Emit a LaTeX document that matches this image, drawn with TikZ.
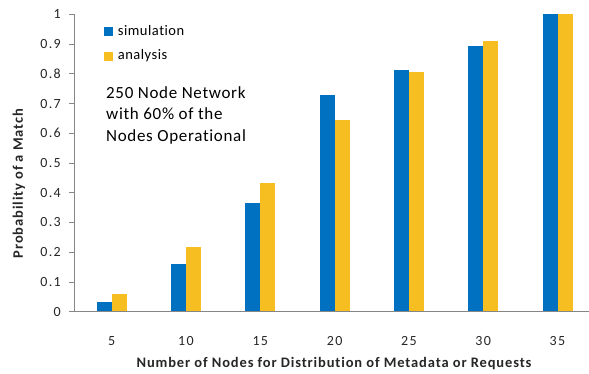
\documentclass[tikz,border=0pt]{standalone}
\usepackage{fontspec}
\setmainfont[Ligatures=CommonOff]{Carlito}
\usetikzlibrary{positioning}
\definecolor{simblue}{RGB}{0,112,192}
\definecolor{anagold}{RGB}{246,190,32}
\definecolor{axisgray}{RGB}{134,134,134}
\newfontfamily\tickfont[LetterSpace=10,Ligatures=CommonOff]{Carlito}
\newfontfamily\keyfont[LetterSpace=3.5,Ligatures=CommonOff]{Carlito}
\newfontfamily\notefont[LetterSpace=4,Ligatures=CommonOff]{Carlito}
\newfontfamily\titlefont[LetterSpace=6,Ligatures=CommonOff]{Carlito}
\tikzset{%
  font=\keyfont\fontsize{14.5}{16}\selectfont,
  bar sim/.style={fill=simblue,draw=none},
  bar ana/.style={fill=anagold,draw=none},
  axis line/.style={draw=axisgray,line width=0.9pt},
  tick label/.style={anchor=east,inner sep=0pt,text=black!85,font=\tickfont\fontsize{14}{16}\selectfont},
  cat label/.style={anchor=base,inner sep=0pt,text=black!85,font=\tickfont\fontsize{14}{16}\selectfont},
  axis title/.style={font=\titlefont\fontsize{14.5}{16}\selectfont\bfseries,text=black!85,inner sep=0pt},
  key box/.style={minimum size=9pt,inner sep=0pt}
}
\begin{document}
\begin{tikzpicture}[x=1pt,y=-1pt]
	\useasboundingbox (0,0) rectangle (589,373);
	% bars
	\foreach \s/\a [count=\i from 0] in {0.032/0.06,0.16/0.219,0.365/0.432,0.728/0.644,0.814/0.806,0.892/0.909,1.0/1.0}{
		\fill[bar sim] (111.7+74.3*\i-15,311.7) rectangle (111.7+74.3*\i,311.7-297.4*\s);
		\fill[bar ana] (111.7+74.3*\i,311.7) rectangle (111.7+74.3*\i+15,311.7-297.4*\a);
	}
	% axes
	\coordinate (origin) at (74,311.7);
	\coordinate (ytop) at (74,14.3);
	\coordinate (xend) at (589,311.7);
	\draw[axis line] (ytop) -- (origin) -- (xend);
	\foreach \v [count=\k from 0] in {0,0.1,0.2,0.3,0.4,0.5,0.6,0.7,0.8,0.9,1}{
		\draw[axis line] (69,311.7-29.74*\k) -- (74,311.7-29.74*\k);
		\node[tick label] (ylab\k) at (61,311.7-29.74*\k) {\v};
	}
	\foreach \n [count=\i from 0] in {5,10,15,20,25,30,35}
		\node[cat label] (xlab\i) at (111.7+74.3*\i,345) {\n};
	\node[axis title,anchor=base] (xtitle) at (334,367) {Number of Nodes for Distribution of Metadata or Requests};
	\node[axis title,rotate=90] (ytitle) at (19,183.5) {Probability of a Match};
	% legend
	\node[key box,fill=simblue] (keysim) at (108,31) {};
	\node[right=5pt of keysim,inner sep=0pt] (txtsim) {simulation};
	\node[key box,fill=anagold] (keyana) at (108,56) {};
	\node[right=5pt of keyana,inner sep=0pt] (txtana) {analysis};
	\node[align=left,anchor=north west,inner sep=0pt,font=\notefont\fontsize{17}{21.7}\selectfont] (note) at (106,86)
		{250 Node Network\\with 60\% of the\\Nodes Operational};
\end{tikzpicture}
\end{document}
